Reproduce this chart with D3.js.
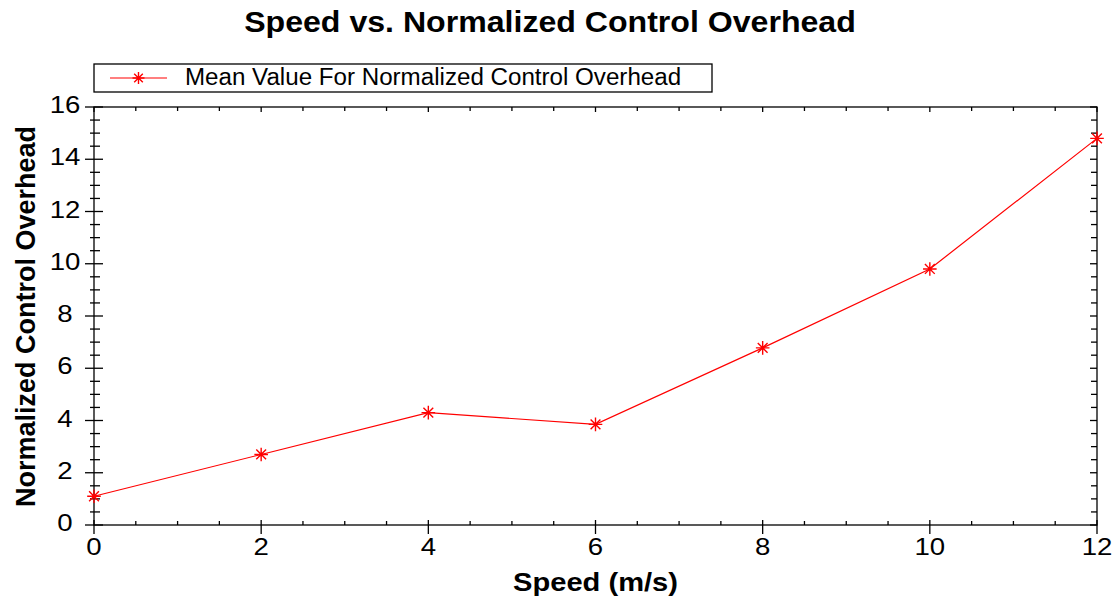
<!DOCTYPE html>
<html><head><meta charset="utf-8">
<script src="https://cdn.jsdelivr.net/npm/d3@7"></script>
<style>
body{margin:0;background:#fff;}
svg text{font-family:"Liberation Sans",Arial,sans-serif;fill:#000;}
</style></head><body>
<svg id="c" width="1119" height="599"></svg>
<script>
const speeds = [0, 2, 4, 6, 8, 10, 12];
const overhead = [1.1, 2.7, 4.3, 3.85, 6.78, 9.8, 14.8];
const xTicks = [0, 2, 4, 6, 8, 10, 12];
const yTicks = [0, 2, 4, 6, 8, 10, 12, 14, 16];
const title = "Speed vs. Normalized Control Overhead";
const seriesName = "Mean Value For Normalized Control Overhead";
const xLabel = "Speed (m/s)";
const yLabel = "Normalized Control Overhead";

const svg = d3.select("#c");
const L = 94, R = 1097, T = 107, B = 525;
const x = d3.scaleLinear().domain([0, 12]).range([L, R]);
const y = d3.scaleLinear().domain([0, 16]).range([B, T]);
const minorX = d3.range(0, 12.001, 0.5);
const minorY = d3.range(0, 16.001, 0.5);

svg.append("rect").attr("width",1119).attr("height",599).attr("fill","#fff");

function stext(px, py, sx, size, bold, anchor, str){
  svg.append("g").attr("transform",`translate(${px},${py}) scale(${sx},1)`)
    .append("text").attr("text-anchor",anchor).style("font-size",size+"px")
    .style("font-weight",bold?"bold":"normal").text(str);
}

// title
stext(550, 32, 1.107, 29, true, "middle", title);

const ax = svg.append("g").attr("stroke","#000").attr("stroke-width",1.3);
ax.append("rect").attr("x",L).attr("y",T).attr("width",R-L).attr("height",B-T).attr("fill","none");
minorX.forEach(v=>{
  const major = xTicks.includes(v);
  ax.append("line").attr("x1",x(v)).attr("x2",x(v)).attr("y1",B-(major?5:4)).attr("y2",major?B+9:B);
  ax.append("line").attr("x1",x(v)).attr("x2",x(v)).attr("y1",T).attr("y2",T+(major?5:4));
});
minorY.forEach(v=>{
  const major = yTicks.includes(v);
  ax.append("line").attr("y1",y(v)).attr("y2",y(v)).attr("x1",major?L-9:L-4).attr("x2",major?L+9:L+6);
  ax.append("line").attr("y1",y(v)).attr("y2",y(v)).attr("x1",R-(major?7:6)).attr("x2",R);
});
xTicks.forEach(d=>stext(x(d), B+30, 1.15, 24, false, "middle", d));
yTicks.forEach(d=>stext(65, y(d)+6, 1.15, 24, false, "middle", d));

stext(595.5, 591, 1.12, 26, true, "middle", xLabel);
svg.append("text").attr("transform","translate(35,316.5) rotate(-90)").attr("text-anchor","middle")
  .style("font-size","27px").style("font-weight","bold").text(yLabel);

// line
const line = d3.line().x((d,i)=>x(speeds[i])).y(d=>y(d));
svg.append("path").datum(overhead).attr("d",line).attr("fill","none").attr("stroke","#ff0000").attr("stroke-width",1.2);

function star(g, cx, cy, r){
  const s = r*0.72;
  const p = `M${cx-r},${cy}L${cx+r},${cy}M${cx},${cy-r}L${cx},${cy+r}M${cx-s},${cy-s}L${cx+s},${cy+s}M${cx-s},${cy+s}L${cx+s},${cy-s}`;
  g.append("path").attr("d",p).attr("stroke","#ff0000").attr("stroke-width",1.4).attr("fill","none");
}
const mk = svg.append("g");
overhead.forEach((v,i)=>star(mk, x(speeds[i]), y(v), 6.8));

// legend
const lg = svg.append("g");
lg.append("rect").attr("x",94).attr("y",64).attr("width",618).attr("height",28).attr("fill","#fff").attr("stroke","#000").attr("stroke-width",1.3);
lg.append("line").attr("x1",110).attr("x2",167).attr("y1",78).attr("y2",78).attr("stroke","#ff0000").attr("stroke-width",1.2);
star(lg, 138.5, 78, 6);
stext(185, 85, 1.05, 23, false, "start", seriesName);
</script>
</body></html>
